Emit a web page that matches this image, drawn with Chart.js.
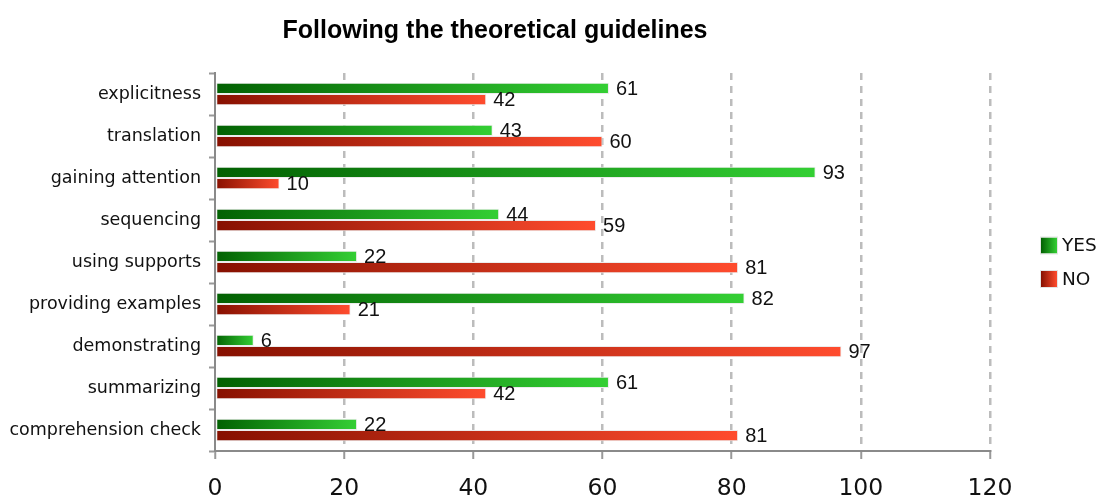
<!DOCTYPE html>
<html>
<head>
<meta charset="utf-8">
<script src="https://cdn.jsdelivr.net/npm/chart.js@4/dist/chart.umd.min.js"></script>
<style>
  html, body { margin: 0; padding: 0; background: #fff; }
  #wrap { width: 1101px; height: 499px; position: relative; }
</style>
</head>
<body>
<div id="wrap"><canvas id="chart"></canvas></div>
<script>
const categories = [
  'explicitness', 'translation', 'gaining attention', 'sequencing',
  'using supports', 'providing examples', 'demonstrating', 'summarizing',
  'comprehension check'
];
const yesValues = [61, 43, 93, 44, 22, 82, 6, 61, 22];
const noValues  = [42, 60, 10, 59, 81, 21, 97, 42, 81];
const xTicks = [0, 20, 40, 60, 80, 100, 120];
const seriesNames = ['YES', 'NO'];

const GREEN = ['#026002', '#34cf34'];
const RED = ['#861000', '#ff4c2e'];

// Horizontal gradient running from the bar's base to its end
function barGradient(ctx, stops) {
  const chart = ctx.chart;
  if (ctx.type !== 'data' || !chart.chartArea || !chart.scales.x) return stops[1];
  const xs = chart.scales.x;
  const x0 = xs.getPixelForValue(0);
  const x1 = xs.getPixelForValue(ctx.raw);
  if (!isFinite(x0) || !isFinite(x1) || x1 - x0 < 1) return stops[1];
  const g = chart.ctx.createLinearGradient(x0, 0, x1, 0);
  g.addColorStop(0, stops[0]);
  g.addColorStop(1, stops[1]);
  return g;
}

// Value labels to the right of each bar
const valueLabels = {
  id: 'valueLabels',
  afterDatasetsDraw(chart) {
    const c = chart.ctx;
    c.save();
    c.font = '20px "Liberation Sans", Arial, sans-serif';
    c.fillStyle = '#111';
    c.textAlign = 'left';
    c.textBaseline = 'middle';
    chart.data.datasets.forEach((ds, di) => {
      const meta = chart.getDatasetMeta(di);
      meta.data.forEach((el, i) => {
        c.fillText(String(ds.data[i]), el.x + 7, el.y + 1);
      });
    });
    c.restore();
  }
};

// Legend with gradient swatches at the right of the plot
const sideLegend = {
  id: 'sideLegend',
  afterDraw(chart) {
    const c = chart.ctx;
    const a = chart.chartArea;
    const cy = (a.top + a.bottom) / 2;
    const items = [
      { label: seriesNames[0], stops: GREEN, y: cy - 16.5 },
      { label: seriesNames[1], stops: RED, y: cy + 17 }
    ];
    const bx = a.right + 51;
    c.save();
    items.forEach(it => {
      const g = c.createLinearGradient(bx, 0, bx + 16, 0);
      g.addColorStop(0, it.stops[0]);
      g.addColorStop(1, it.stops[1]);
      c.fillStyle = g;
      c.fillRect(bx, it.y - 8, 16, 16);
      c.strokeStyle = '#e4e4e4';
      c.lineWidth = 1;
      c.strokeRect(bx - 0.5, it.y - 8.5, 17, 17);
      c.fillStyle = '#111';
      c.font = '18.5px "DejaVu Sans", sans-serif';
      c.textAlign = 'left';
      c.textBaseline = 'middle';
      c.fillText(it.label, bx + 21, it.y + 1);
    });
    c.restore();
  }
};

new Chart(document.getElementById('chart'), {
  type: 'bar',
  data: {
    labels: categories,
    datasets: [
      {
        label: seriesNames[0],
        data: yesValues,
        backgroundColor: ctx => barGradient(ctx, GREEN),
        borderColor: '#ececec',
        borderWidth: 1,
        borderSkipped: false,
        categoryPercentage: 0.54,
        barPercentage: 1.0
      },
      {
        label: seriesNames[1],
        data: noValues,
        backgroundColor: ctx => barGradient(ctx, RED),
        borderColor: '#ececec',
        borderWidth: 1,
        borderSkipped: false,
        categoryPercentage: 0.54,
        barPercentage: 1.0
      }
    ]
  },
  options: {
    indexAxis: 'y',
    responsive: true,
    maintainAspectRatio: false,
    animation: false,
    layout: { padding: { left: 0, right: 111, top: 0, bottom: 0 } },
    plugins: {
      legend: { display: false },
      tooltip: { enabled: false },
      title: {
        display: true,
        text: 'Following the theoretical guidelines',
        color: '#000',
        font: { family: '"Liberation Sans", Arial, sans-serif', size: 25, weight: 'bold' },
        padding: { top: 16, bottom: 27 }
      }
    },
    scales: {
      x: {
        min: 0,
        max: 120,
        afterBuildTicks: scale => { scale.ticks = xTicks.map(v => ({ value: v })); },
        afterFit: scale => { scale.height = 48; },
        ticks: {
          color: '#111',
          padding: 16,
          font: { family: '"DejaVu Sans", sans-serif', size: 23.5 }
        },
        grid: {
          color: ctx => (ctx.tick && ctx.tick.value === 0) ? 'rgba(0,0,0,0)' : 'rgba(165,165,165,0.75)',
          lineWidth: 2.5,
          drawTicks: true,
          tickLength: 8,
          tickColor: '#999',
          tickWidth: 2
        },
        border: { display: true, color: '#8a8a8a', width: 2, dash: [7, 6] }
      },
      y: {
        afterFit: scale => { scale.width = 215; },
        ticks: {
          color: '#111',
          padding: 8,
          font: { family: '"DejaVu Sans", sans-serif', size: 17.5 }
        },
        grid: {
          drawOnChartArea: false,
          drawTicks: true,
          tickLength: 6,
          tickColor: '#999',
          tickWidth: 2
        },
        border: { display: true, color: '#8a8a8a', width: 2 }
      }
    }
  },
  plugins: [valueLabels, sideLegend]
});
</script>
</body>
</html>
